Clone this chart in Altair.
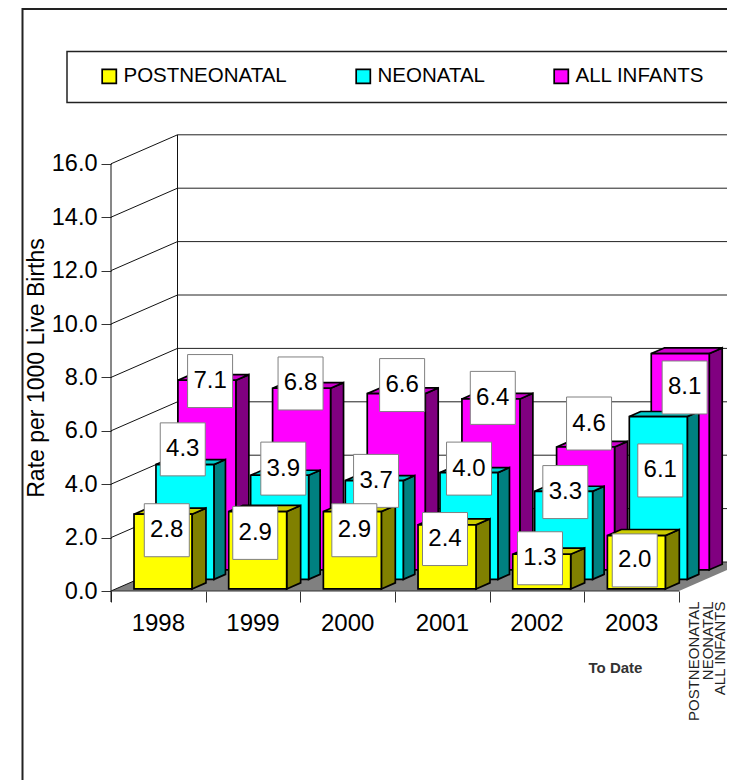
import altair as alt
import pandas as pd

YEARS = ["1998", "1999", "2000", "2001", "2002", "2003"]
POSTNEONATAL = [2.8, 2.9, 2.9, 2.4, 1.3, 2.0]
NEONATAL = [4.3, 3.9, 3.7, 4.0, 3.3, 6.1]
ALL_INFANTS = [7.1, 6.8, 6.6, 6.4, 4.6, 8.1]
TICKS = [0, 2, 4, 6, 8, 10, 12, 14, 16]
SERIES_NAMES = ["POSTNEONATAL", "NEONATAL", "ALL INFANTS"]
WALL_LABELS = ["POSTNEONATAL", "NEONATAL", "ALL INFANTS"]
WALL_SLOTS = [0.16, 0.305, 0.43]

# label nudges from the top-centre of each bar (hand-placed in the original)
NUDGE_X_POST = [3.8, -2.4, 2.0, -2.0, -1.7, -1.6]
NUDGE_Y_POST = [-0.60, -0.80, -0.70, -0.53, -0.15, -0.93]
NUDGE_X_NEO = [-2.2, 3.7, 1.8, 0.1, 1.7, 2.0]
NUDGE_Y_NEO = [0.57, 0.25, -0.01, 0.15, -0.03, -2.02]
NUDGE_X_ALL = [3.2, -1.0, 5.9, 1.9, 3.5, 4.4]
NUDGE_Y_ALL = [-0.03, 0.18, 0.32, 0.04, 0.88, -1.27]

FONT = "Liberation Sans"
W, H = 719, 772
STEP = 94.67      # px per year
UNIT = 26.7       # px per rate unit
X0, Y0 = 103, 583 # canvas px of origin
DEPTH_X = 66.5 / STEP
DEPTH_Y = 29 / UNIT
PAD, BAR_W = 0.194, 0.6125
BOX_W, BOX_H = 45 / STEP, 53 / UNIT
n = len(YEARS)

x_scale = alt.Scale(domain=[-X0 / STEP, (W - X0) / STEP], nice=False, zero=False)
y_scale = alt.Scale(domain=[(Y0 - H) / UNIT, Y0 / UNIT], nice=False, zero=False)
y_axis = alt.Axis(values=TICKS, format=".1f", offset=-X0, tickSize=10, domain=False,
                  grid=False, labelFont=FONT, labelFontSize=23.5, labelColor="black",
                  labelPadding=4, tickColor="#333333", tickWidth=1, title=None,
                  labelOverlap=False)
x_axis = alt.Axis(values=list(range(n + 1)), offset=-(H - Y0), tickSize=11, domain=False,
                  grid=False, labels=False, tickColor="#333333", tickWidth=1, title=None)
X = lambda f: alt.X(f, type="quantitative", scale=x_scale, axis=x_axis)
Y = lambda f: alt.Y(f, type="quantitative", scale=y_scale, axis=y_axis)


def row_faces(values, d, dd):
    side, top, front = [], [], []
    dx = dd * DEPTH_X
    dy = dd * DEPTH_Y
    for k, v in enumerate(values):
        left = k + PAD + d * DEPTH_X
        right = left + BAR_W
        base = d * DEPTH_Y
        topv = base + v
        front.append(dict(x=left, x2=right, y=base, y2=topv))
        side.append(dict(b=k, x=right, y=base, y2=topv))
        side.append(dict(b=k, x=right + dx, y=base + dy, y2=topv + dy))
        top.append(dict(b=k, y=topv, x=left, x2=right))
        top.append(dict(b=k, y=topv + dy, x=left + dx, x2=right + dx))
    return pd.DataFrame(side), pd.DataFrame(top), pd.DataFrame(front)


STROKE = dict(stroke="black", strokeWidth=1.7)
color_scale = alt.Scale(domain=SERIES_NAMES, range=["#FFFF00", "#00FFFF", "#FF00FF"])
legend = alt.Legend(
    orient="none", legendX=91, legendY=58, direction="horizontal", columns=3,
    title=None, symbolType="square", symbolSize=200, symbolStrokeColor="black",
    symbolStrokeWidth=1.7, symbolOpacity=1, labelFont=FONT, labelFontSize=20.5,
    labelColor="black", labelOffset=4, columnPadding=65, padding=0, labelLimit=400,
)


def bars(name, values, d, dd, side_col, top_col):
    side, top, front = row_faces(values, d, dd)
    front["series"] = name
    s = alt.Chart(side).mark_area(orient="vertical", color=side_col, clip=True, **STROKE).encode(
        x=X("x"), y=Y("y"), y2="y2", detail="b:N")
    t = alt.Chart(top).mark_area(orient="horizontal", color=top_col, clip=True, **STROKE).encode(
        y=Y("y"), x=X("x"), x2="x2", detail="b:N")
    f = alt.Chart(front).mark_rect(**STROKE).encode(
        x=X("x"), x2="x2", y=Y("y"), y2="y2",
        color=alt.Color("series:N", scale=color_scale, legend=legend))
    return [s, t, f]


def label_rows(values, d, nx, ny):
    return [
        dict(x=k + 0.5 + d * DEPTH_X + nx[k] / STEP,
             y=d * DEPTH_Y + v + ny[k],
             t=f"{v:.1f}")
        for k, v in enumerate(values)
    ]


# ---- walls and floor ----
floor = pd.DataFrame([dict(y=0, x=0, x2=n), dict(y=DEPTH_Y, x=DEPTH_X, x2=n + DEPTH_X)])
floor_l = alt.Chart(floor).mark_area(orient="horizontal", color="#808080", clip=True).encode(
    y=Y("y"), x=X("x"), x2="x2")
back = pd.DataFrame([dict(y=v + DEPTH_Y, x=DEPTH_X, x2=n + DEPTH_X) for v in TICKS])
back_l = alt.Chart(back).mark_rule(color="#222222", strokeWidth=1, clip=True).encode(
    x=X("x"), x2="x2", y=Y("y"))
side_grid = pd.DataFrame(
    [dict(v=v, x=0, y=v) for v in TICKS] + [dict(v=v, x=DEPTH_X, y=v + DEPTH_Y) for v in TICKS])
side_l = alt.Chart(side_grid).mark_line(color="#111111", strokeWidth=1).encode(
    x=X("x"), y=Y("y"), detail="v:N")
verts = pd.DataFrame([dict(x=0, y=-11 / UNIT, y2=TICKS[-1]),
                      dict(x=DEPTH_X, y=DEPTH_Y, y2=TICKS[-1] + DEPTH_Y)])
vert_l = alt.Chart(verts).mark_rule(color="#111111", strokeWidth=1).encode(
    x=X("x"), y=Y("y"), y2="y2")
base_l = alt.Chart(pd.DataFrame([dict(x=0, x2=n, y=0)])).mark_rule(
    color="#333333", strokeWidth=1).encode(x=X("x"), x2="x2", y=Y("y"))

# ---- bars, rear row first ----
layers = [floor_l, back_l, side_l, vert_l]
layers += bars("ALL INFANTS", ALL_INFANTS, 0.73, 0.195, "#800080", "#CC00CC")
layers += bars("NEONATAL", NEONATAL, 0.40, 0.173, "#008080", "#00CCCC")
layers.append(base_l)
layers += bars("POSTNEONATAL", POSTNEONATAL, 0.07, 0.21, "#808000", "#CCCC00")

# ---- value labels in white boxes ----
lab = pd.DataFrame(
    label_rows(ALL_INFANTS, 0.73, NUDGE_X_ALL, NUDGE_Y_ALL)
    + label_rows(NEONATAL, 0.40, NUDGE_X_NEO, NUDGE_Y_NEO)
    + label_rows(POSTNEONATAL, 0.07, NUDGE_X_POST, NUDGE_Y_POST)
)
lab["x1"] = lab.x - BOX_W / 2
lab["x2"] = lab.x + BOX_W / 2
lab["y1"] = lab.y - BOX_H / 2
lab["y2"] = lab.y + BOX_H / 2
layers.append(alt.Chart(lab).mark_rect(fill="white", stroke="#808080", strokeWidth=1).encode(
    x=X("x1"), x2="x2", y=Y("y1"), y2="y2"))
layers.append(alt.Chart(lab).mark_text(font=FONT, fontSize=24, color="black").encode(
    x=X("x"), y=Y("y"), text="t:N"))

# ---- category labels ----
yr = pd.DataFrame([dict(x=k + 0.5, y=-33 / UNIT, t=t) for k, t in enumerate(YEARS)])
layers.append(alt.Chart(yr).mark_text(font=FONT, fontSize=24, color="black").encode(
    x=X("x"), y=Y("y"), text="t:N"))

# ---- depth-axis labels, axis title, frames ----
wall = pd.DataFrame([dict(x=n + WALL_SLOTS[i], y=-10.5 / UNIT, t=t) for i, t in enumerate(WALL_LABELS)])
layers.append(alt.Chart(wall).mark_text(font=FONT, fontSize=15, color="#222222", angle=270,
                                        align="right", clip=True).encode(
    x=X("x"), y=Y("y"), text="t:N"))
layers.append(alt.Chart(pd.DataFrame([dict(t="To Date")])).mark_text(
    font=FONT, fontSize=15, fontWeight="bold", color="#333333").encode(
    x=alt.value(607.5), y=alt.value(660), text="t:N"))
layers.append(alt.Chart(pd.DataFrame([dict(t="Rate per 1000 Live Births")])).mark_text(
    font=FONT, fontSize=23, color="black", angle=270).encode(
    x=alt.value(29), y=alt.value(360), text="t:N"))
layers.append(alt.Chart(pd.DataFrame([dict(a=1)])).mark_rect(
    fillOpacity=0, stroke="#222222", strokeWidth=1.5, clip=True).encode(
    x=alt.value(59), x2=alt.value(800), y=alt.value(43.5), y2=alt.value(94.5)))
layers.append(alt.Chart(pd.DataFrame([dict(a=1)])).mark_rect(
    fillOpacity=0, stroke="#222222", strokeWidth=2, clip=True).encode(
    x=alt.value(14.5), x2=alt.value(900), y=alt.value(1), y2=alt.value(900)))

chart = (
    alt.layer(*layers)
    .resolve_scale(color="shared")
    .properties(width=W, height=H, padding=0, background="white",
                autosize=alt.AutoSizeParams(type="none"))
    .configure_view(stroke=None)
)
chart.save("out.html", embed_options={"renderer": "svg", "actions": False})
